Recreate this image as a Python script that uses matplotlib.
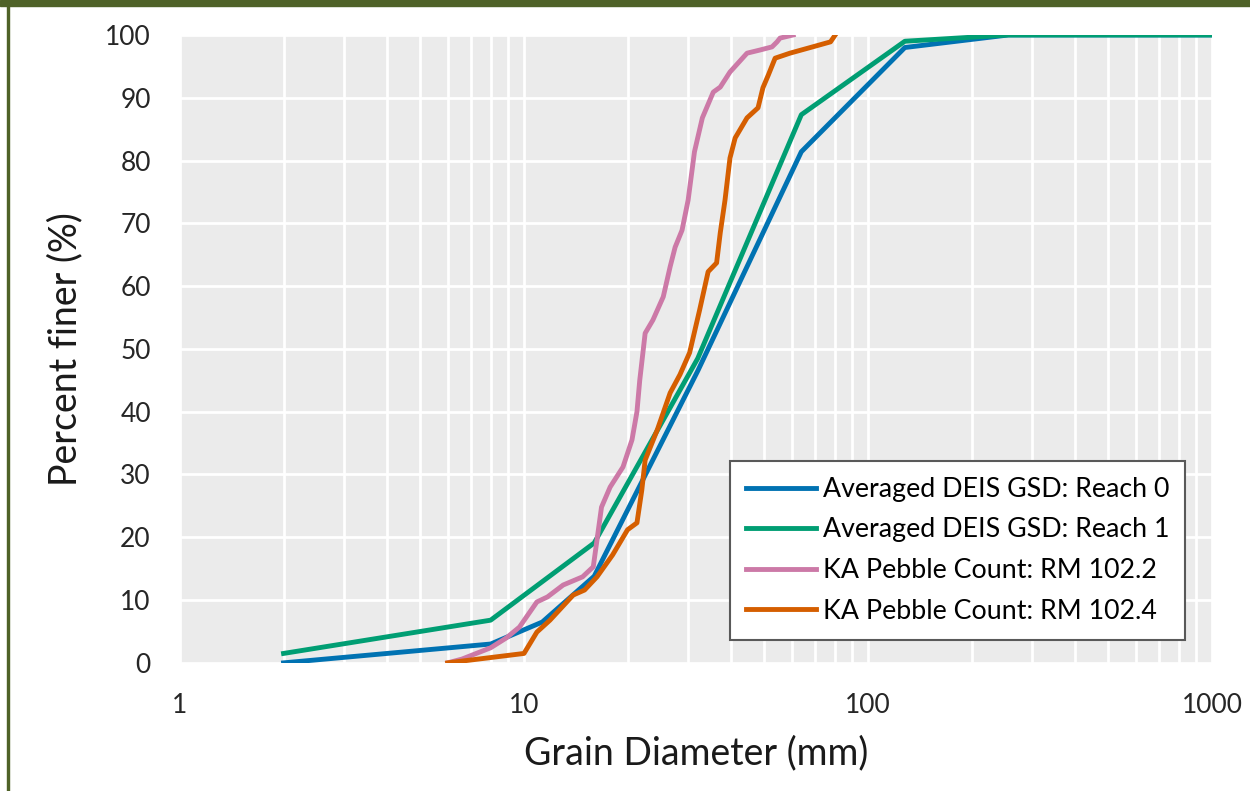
import matplotlib
matplotlib.use("Agg")
import matplotlib.pyplot as plt
from matplotlib.patches import Rectangle
from matplotlib.ticker import FixedLocator, LogLocator, NullFormatter

plt.rcParams['font.family'] = ['Lato', 'DejaVu Sans']

# Averaged DEIS grain size distributions (sieve size mm, percent finer)
reach0_d = [2, 8, 11.3, 16, 32, 64, 128, 256, 1024]
reach0_p = [0, 3.0, 6.5, 13.8, 46.5, 81.4, 98.0, 100, 100]

reach1_d = [2, 8, 16, 32, 64, 128, 256, 1024]
reach1_p = [1.5, 6.8, 19.1, 48.5, 87.3, 99.0, 100, 100]

# KA pebble counts
rm1022_d = [6.0, 6.6, 8.0, 8.9, 9.7, 10.9, 11.7, 13.0, 14.8, 15.9, 16.8, 17.8,
            19.4, 20.6, 21.3, 21.7, 22.5, 23.7, 25.4, 26.6, 27.5, 28.8, 30.0,
            31.3, 33.0, 35.5, 37.2, 39.7, 44.5, 48.5, 52.6, 54.4, 55.5, 60.6]
rm1022_p = [0, 0.6, 2.4, 4.0, 5.7, 9.7, 10.5, 12.4, 13.7, 15.3, 24.8, 28.0,
            31.2, 35.5, 40.0, 45.0, 52.5, 54.6, 58.3, 63.1, 66.2, 68.9, 73.7,
            81.4, 86.8, 90.9, 91.7, 94.1, 97.1, 97.6, 98.1, 98.9, 99.5, 100]

rm1024_d = [6.0, 10.0, 10.9, 11.9, 13.9, 15.0, 16.3, 18.1, 20.0, 21.3, 22.0,
            22.5, 24.4, 26.6, 28.4, 30.3, 32.4, 34.3, 36.3, 37.2, 38.4, 39.7,
            41.1, 44.5, 47.9, 49.5, 51.3, 53.7, 59.3, 69.0, 77.8, 80.3]
rm1024_p = [0, 1.5, 4.9, 6.8, 10.8, 11.6, 13.7, 17.2, 21.2, 22.3, 27.5,
            32.3, 37.1, 43.0, 45.9, 49.4, 56.2, 62.3, 63.7, 68.5, 73.7, 80.4,
            83.6, 86.8, 88.4, 91.6, 93.6, 96.3, 97.1, 98.1, 98.9, 100]

x_ticks = [1, 10, 100, 1000]
y_ticks = list(range(0, 101, 10))

fig = plt.figure(figsize=(12.5, 7.91), dpi=100)
ax = fig.add_axes([0.144, 0.162, 0.8256, 0.7938])

lw = 3.5
ax.plot(reach0_d, reach0_p, color="#0072B2", lw=lw, label="Averaged DEIS GSD: Reach 0")
ax.plot(reach1_d, reach1_p, color="#009E73", lw=lw, label="Averaged DEIS GSD: Reach 1")
ax.plot(rm1022_d, rm1022_p, color="#CC79A7", lw=lw, label="KA Pebble Count: RM 102.2")
ax.plot(rm1024_d, rm1024_p, color="#D55E00", lw=lw, label="KA Pebble Count: RM 102.4")

ax.set_xscale("log")
ax.set_xlim(1, 1000)
ax.set_ylim(0, 100)
ax.set_facecolor("#ebebeb")

ax.xaxis.set_major_locator(FixedLocator(x_ticks))
ax.set_xticklabels([str(t) for t in x_ticks])
ax.xaxis.set_minor_locator(LogLocator(base=10, subs=range(2, 10)))
ax.xaxis.set_minor_formatter(NullFormatter())
ax.set_yticks(y_ticks)

ax.grid(True, which="both", axis="x", color="white", lw=2)
ax.grid(True, which="major", axis="y", color="white", lw=2)
ax.set_axisbelow(True)
for s in ax.spines.values():
    s.set_visible(False)
ax.tick_params(which="both", length=0, labelsize=19, colors="#262626")
ax.tick_params(axis="y", pad=21)
ax.tick_params(axis="x", pad=22)

ax.set_xlabel("Grain Diameter (mm)", fontsize=27, color="#1a1a1a", labelpad=12)
ax.set_ylabel("Percent finer (%)", fontsize=27, color="#1a1a1a", labelpad=16)

leg = ax.legend(loc="lower right", bbox_to_anchor=(0.974, 0.037), borderaxespad=0,
                fontsize=19.3, handlelength=2.6, frameon=True, fancybox=False,
                framealpha=1, borderpad=0.6, labelspacing=0.58, handletextpad=0.25)
leg.get_frame().set_edgecolor("#595959")
leg.get_frame().set_linewidth(1.5)

# page border: olive bar on top, thin rule on the left
fig.patches.append(Rectangle((0, 0.993), 1, 0.007, transform=fig.transFigure,
                             color="#4f6228", zorder=10))
fig.patches.append(Rectangle((0.0056, 0), 0.0016, 1, transform=fig.transFigure,
                             color="#4f6228", zorder=10))

fig.savefig("out.png", dpi=100)
